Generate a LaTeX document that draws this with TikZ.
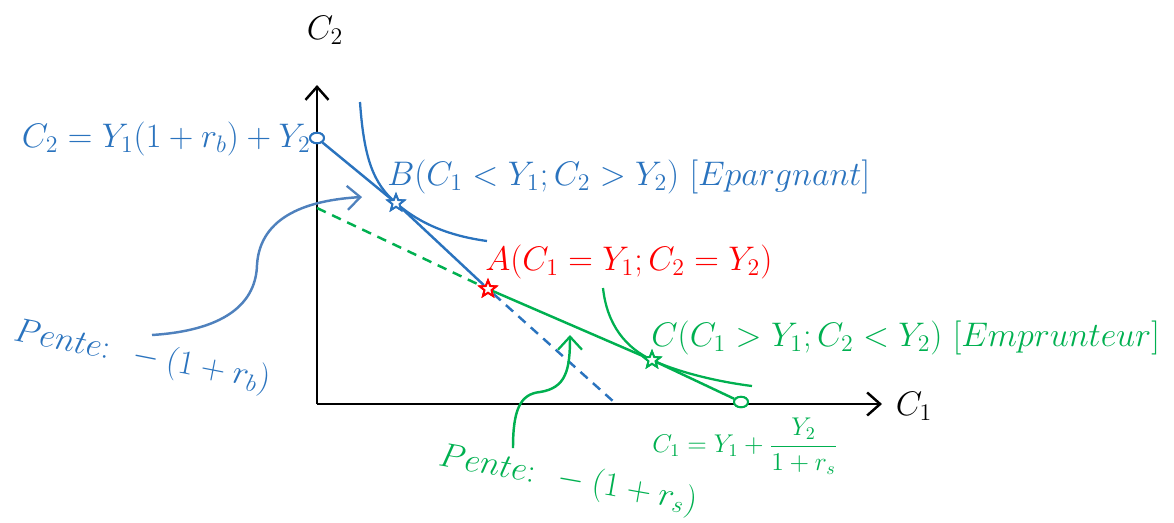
\RequirePackage{fix-cm}
\documentclass[tikz,border=0pt]{standalone}
\usepackage{amsmath}
\usetikzlibrary{shapes.geometric,arrows.meta}
\definecolor{cblue}{HTML}{2A73BE}
\definecolor{ablue}{HTML}{4F81BD}
\definecolor{cgreen}{HTML}{00B050}
\definecolor{cred}{HTML}{FF0000}
\tikzset{
  big/.style={font=\fontsize{19.4}{23}\selectfont, inner sep=0pt},
  small/.style={font=\fontsize{14.6}{17}\selectfont, inner sep=0pt},
  axis/.style={line width=1.6pt, -{Straight Barb[length=2.6mm,width=4.6mm,line width=1.4pt]}},
  budget/.style={line width=1.4pt},
  dashline/.style={line width=1.4pt, dash pattern=on 5.5pt off 4pt},
  indiff/.style={line width=1.3pt},
  curvearrow/.style={line width=1.4pt, -{Straight Barb[length=2.6mm,width=4.8mm,line width=1.3pt]}},
  starnode/.style={star, star points=5, star point ratio=2.3, minimum size=0.34cm, inner sep=0pt, fill=white, line width=1.1pt},
  opencircle/.style={ellipse, minimum width=0.28cm, minimum height=0.21cm, inner sep=0pt, fill=white, line width=1.1pt}
}
\begin{document}
\begin{tikzpicture}[x=0.02cm,y=-0.02cm]
\useasboundingbox (0,0) rectangle (1174,522);
% axes
\coordinate (O) at (317,404);
\coordinate (ytip) at (317,85);
\coordinate (xtip) at (882,404);
\draw[axis] (O) -- (ytip);
\draw[axis] (O) -- (xtip);
\node[big] (lc2) at (325,30) {$C_2$};
\node[big] (lc1) at (914,406) {$C_1$};
% key points
\coordinate (G) at (317,208);
\coordinate (D) at (614,402);
\node[starnode, draw=cred] (A) at (488,289) {};
\node[starnode, draw=cblue] (B) at (396,203) {};
\node[starnode, draw=cgreen] (C) at (652,360) {};
% budget lines
\draw[dashline, cgreen] (G) -- (A);
\draw[dashline, cblue] (A) -- (D);
\node[opencircle, draw=cblue] (P2) at (317,138) {};
\node[opencircle, draw=cgreen] (P1) at (741,402) {};
\draw[budget, cblue] (P2) -- (B) -- (A);
\draw[budget, cgreen] (A) -- (C) -- (P1);
% indifference curves
\coordinate (b0) at (360,102);
\coordinate (b1) at (487,241);
\draw[indiff, cblue] (b0) .. controls (364,160) and (374,184) .. (B.center)
  .. controls (420,224) and (450,236) .. (b1);
\coordinate (g0) at (603,288);
\coordinate (g1) at (752,386);
\draw[indiff, cgreen] (g0) .. controls (607,325) and (626,348) .. (C.center)
  .. controls (680,373) and (720,382) .. (g1);
% redraw stars on top
\node[starnode, draw=cred] at (A) {};
\node[starnode, draw=cblue] at (B) {};
\node[starnode, draw=cgreen] at (C) {};
\node[opencircle, draw=cblue] at (P2) {};
\node[opencircle, draw=cgreen] at (P1) {};
% labels
\node[big, text=cblue, anchor=east] (lP2) at (311,139) {$C_2 = Y_1(1+r_b)+Y_2$};
\node[big, text=cblue, anchor=west] (lB) at (387,177) {$B(C_1<Y_1;C_2>Y_2)\ [Epargnant]$};
\node[big, text=cred, anchor=west] (lA) at (485,262) {$A(C_1=Y_1;C_2=Y_2)$};
\node[big, text=cgreen, anchor=west] (lC) at (651,338) {$C(C_1>Y_1;C_2<Y_2)\ [Emprunteur]$};
\node[small, text=cgreen] (lP1) at (745,446) {$C_1 = Y_1+\dfrac{Y_2}{1+r_s}$};
\node[big, text=cblue, rotate=-11] (pb) at (142,357) {$Pente{:}\ \,-(1+r_b)$};
\node[big, text=cgreen, rotate=-10] (ps) at (568,480) {$Pente{:}\ \,-(1+r_s)$};
% curved arrows
\coordinate (ab0) at (152,335);
\coordinate (ab1) at (362,197);
\draw[curvearrow, ablue] (ab0) .. controls (230,330) and (256,300) .. (257,265)
  .. controls (260,215) and (310,200) .. (ab1);
\coordinate (ag0) at (513,448);
\coordinate (ag1) at (570,335);
\draw[curvearrow, cgreen] (ag0) .. controls (513,410) and (520,394) .. (540,392)
  .. controls (566,388) and (570,370) .. (ag1);
\end{tikzpicture}
\end{document}
